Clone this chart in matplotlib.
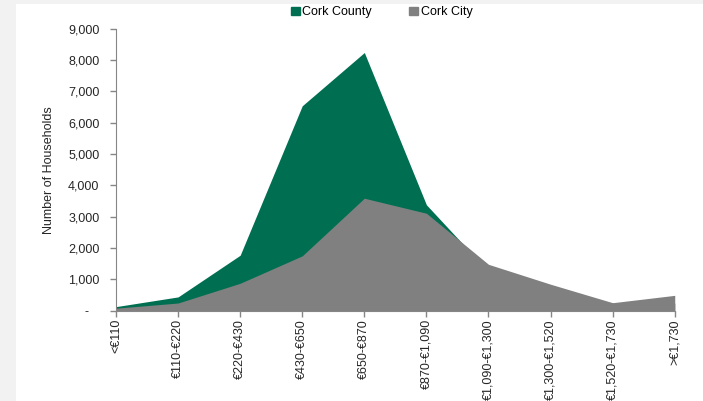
import matplotlib.pyplot as plt
import matplotlib.patches as mpatches
from matplotlib.ticker import FuncFormatter

plt.rcParams['font.family'] = ['Liberation Sans', 'DejaVu Sans']

categories = ['<€110', '€110-€220', '€220-€430', '€430-€650', '€650-€870',
              '€870-€1,090', '€1,090-€1,300', '€1,300-€1,520', '€1,520-€1,730', '>€1,730']
cork_county = [130, 440, 1770, 6540, 8240, 3380, 1250, 700, 240, 240]
cork_city = [80, 245, 875, 1750, 3590, 3110, 1480, 845, 255, 490]

green = '#006f51'
grey = '#808080'

fig = plt.figure(figsize=(7.03, 4.01), dpi=100)
fig.patch.set_facecolor('#f2f2f2')
fig.patches.append(mpatches.Rectangle((16 / 703, 0), 1, 1 - 4 / 401, transform=fig.transFigure,
                                      facecolor='white', edgecolor='none', zorder=-10))

ax = fig.add_axes([0.165, 0.2252, 0.7948, 0.7032])
ax.set_facecolor('none')
x = list(range(len(categories)))
ax.fill_between(x, cork_county, color=green, linewidth=0, label='Cork County', zorder=2)
ax.fill_between(x, cork_city, color=grey, linewidth=0, label='Cork City', zorder=3)

ax.set_xlim(0, len(categories) - 1)
ax.set_ylim(0, 9000)
ax.set_yticks(range(0, 9001, 1000))
ax.yaxis.set_major_formatter(FuncFormatter(lambda v, p: '-   ' if v == 0 else f'{int(v):,}'))
ax.set_xticks(x)
ax.set_xticklabels(categories, rotation=90, ha='center', va='top')

for side in ['top', 'right']:
    ax.spines[side].set_visible(False)
for side in ['left', 'bottom']:
    ax.spines[side].set_color('#868686')
    ax.spines[side].set_zorder(4)
ax.tick_params(axis='both', colors='#868686', length=4, width=1, labelsize=9, labelcolor='#262626')
ax.tick_params(axis='y', pad=8)
ax.tick_params(axis='x', pad=2)

ax.set_ylabel('Number of Households', fontsize=9, color='#262626')
ax.yaxis.set_label_coords(-0.109, 0.5)

handles = [mpatches.Patch(color=green), mpatches.Patch(color=grey)]
fig.legend(handles, ['Cork County', 'Cork City'], loc='center', bbox_to_anchor=(0.543, 0.969),
           ncol=2, frameon=False, fontsize=9, handlelength=0.7, handleheight=0.7,
           handletextpad=0.2, columnspacing=3.0)

fig.savefig('out.png', dpi=100)
